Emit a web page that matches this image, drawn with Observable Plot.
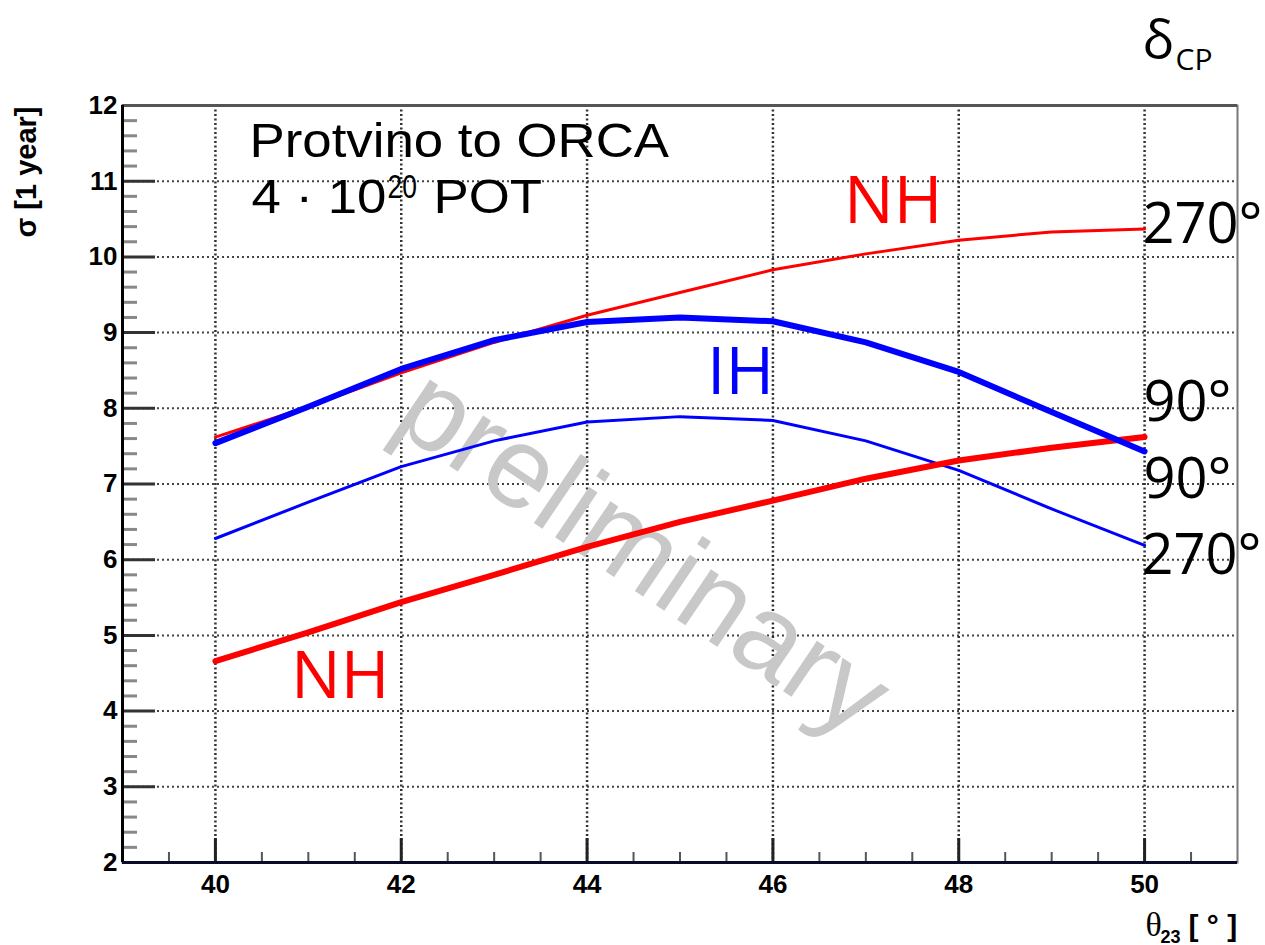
<!DOCTYPE html>
<html><head><meta charset="utf-8">
<script src="https://cdn.jsdelivr.net/npm/d3@7"></script>
<script src="https://cdn.jsdelivr.net/npm/@observablehq/plot@0.6"></script>
<style>
html,body{margin:0;padding:0;background:#fff;}
#chart svg{display:block;}
</style>
</head><body><div id="chart"></div>
<script>
// ---- data ----
const theta23 = [40, 41, 42, 43, 44, 45, 46, 47, 48, 49, 50];
const nh270 = [7.62, 8.02, 8.47, 8.87, 9.23, 9.53, 9.83, 10.04, 10.22, 10.33, 10.37];
const nh90  = [4.66, 5.04, 5.44, 5.80, 6.17, 6.50, 6.78, 7.07, 7.31, 7.48, 7.62];
const ih90  = [7.54, 8.02, 8.52, 8.90, 9.14, 9.20, 9.15, 8.87, 8.48, 7.95, 7.43];
const ih270 = [6.28, 6.76, 7.23, 7.57, 7.82, 7.89, 7.84, 7.57, 7.18, 6.67, 6.19];

const xMajorTicks = [40, 42, 44, 46, 48, 50];
const xMinorTicks = [39.5, 40.5, 41, 41.5, 42.5, 43, 43.5, 44.5, 45, 45.5, 46.5, 47, 47.5, 48.5, 49, 49.5, 50.5];
const yMajorTicks = [2, 3, 4, 5, 6, 7, 8, 9, 10, 11, 12];
const yMinorTicks = d3.range(2.2, 12, 0.2).filter(v => Math.abs(v - Math.round(v)) > 1e-6);
const xDomain = [39, 51];
const yDomain = [2, 12];

const series = (vals) => theta23.map((t, i) => ({theta: t, sigma: vals[i]}));

// ---- layout ----
const W = 1265, H = 945, mL = 122, mR = 28, mT = 105, mB = 83;
const fw = W - mL - mR, fh = H - mT - mB;

// text placed by pixel position (baseline) relative to the frame
function label(text, px, py, opts = {}) {
  return Plot.text([text], {
    frameAnchor: "top-left", dx: px - mL, dy: py - mT, text: d => d,
    textAnchor: "start", lineAnchor: "bottom", ...opts
  });
}
const ROOT = "'Liberation Sans', Arial, Helvetica, sans-serif";
const PPT = "'Open Sans', 'Noto Sans', sans-serif";

const chart = Plot.plot({
  width: W, height: H,
  marginLeft: mL, marginRight: mR, marginTop: mT, marginBottom: mB,
  x: {domain: xDomain},
  y: {domain: yDomain},
  style: {fontFamily: ROOT, background: "#fff", color: "#000", overflow: "visible"},
  marks: [
    // grid
    Plot.gridY(yMajorTicks.slice(1), {stroke: "#444", strokeOpacity: 1, strokeWidth: 2, strokeDasharray: "2,3"}),
    Plot.gridX(xMajorTicks, {stroke: "#333", strokeOpacity: 1, strokeWidth: 2.5, strokeDasharray: "2,2.5"}),
    // watermark
    label("preliminary", 643, 552, {textAnchor: "middle", lineAnchor: "middle", rotate: 34, fontSize: 115, fill: "#c8c8c8", fontFamily: ROOT}),
    // ticks (inward)
    Plot.tickX(xMinorTicks, {x: d => d, stroke: "#555", strokeWidth: 2, insetTop: fh - 10}),
    Plot.tickX(xMajorTicks, {x: d => d, stroke: "#222", strokeWidth: 3, insetTop: fh - 24}),
    Plot.tickY(yMinorTicks, {y: d => d, stroke: "#888", strokeWidth: 3, insetRight: fw - 15}),
    Plot.tickY(yMajorTicks, {y: d => d, stroke: "#333", strokeWidth: 3, insetRight: fw - 33}),
    // frame and axes lines
    Plot.frame({stroke: "#777", strokeWidth: 2}),
    Plot.ruleY([yDomain[1]], {stroke: "#555", strokeWidth: 3}),
    Plot.ruleX([xDomain[0]], {stroke: "#000", strokeWidth: 3}),
    Plot.ruleY([yDomain[0]], {stroke: "#0a0a2a", strokeWidth: 3}),
    // curves
    Plot.line(series(nh270), {x: "theta", y: "sigma", stroke: "#ff0000", strokeWidth: 3}),
    Plot.line(series(ih270), {x: "theta", y: "sigma", stroke: "#0000ff", strokeWidth: 3}),
    Plot.line(series(nh90), {x: "theta", y: "sigma", stroke: "#ff0000", strokeWidth: 6}),
    Plot.line(series(ih90), {x: "theta", y: "sigma", stroke: "#0000ff", strokeWidth: 6}),
    // axes tick labels
    Plot.axisY(yMajorTicks, {tickSize: 0, tickPadding: 5, tickFormat: d3.format("d"), fontSize: 26, fontWeight: "bold", label: null}),
    Plot.axisX(xMajorTicks, {tickSize: 0, tickPadding: 12, tickFormat: d3.format("d"), fontSize: 26, fontWeight: "bold", label: null}),
    // axis titles
    label("σ [1 year]", 35, 106, {rotate: -90, textAnchor: "end", fontSize: 29, fontWeight: "bold"}),
    label("θ", 1145, 935, {fontSize: 34, fontFamily: "'Liberation Serif', 'DejaVu Serif', serif"}),
    label("23", 1160, 942, {fontSize: 18, fontWeight: "bold"}),
    label("[ ° ]", 1188, 935, {fontSize: 30, fontWeight: "bold"}),
    // annotations (ROOT text, stretched horizontally)
    label("Protvino to ORCA", 249, 156, {fontSize: 48, ariaDescription: "sx-1.1"}),
    label("4 · 10", 251, 212, {fontSize: 48, ariaDescription: "sx-1.1"}),
    label("20", 387, 197, {fontSize: 33, ariaDescription: "sx-0.8"}),
    label("POT", 433, 212, {fontSize: 48, ariaDescription: "sx-1.1"}),
    // annotations (slide text)
    label("NH", 843.5, 222, {fontSize: 66, fill: "#ff0000", fontFamily: PPT}),
    label("NH", 290.5, 697, {fontSize: 66, fill: "#ff0000", fontFamily: PPT}),
    label("IH", 706.5, 393, {fontSize: 66, fill: "#0000ff", fontFamily: PPT}),
    label("270°", 1142, 242, {fontSize: 56, fontFamily: PPT}),
    label("90°", 1143, 420, {fontSize: 56, fontFamily: PPT}),
    label("90°", 1143, 497, {fontSize: 56, fontFamily: PPT}),
    label("270°", 1141, 573, {fontSize: 56, fontFamily: PPT}),
    label("δ", 1142, 57, {fontSize: 53, fontFamily: PPT}),
    label("CP", 1175, 69, {fontSize: 30, fontFamily: PPT})
  ]
});

// horizontal stretch for ROOT-rendered annotation text
chart.querySelectorAll("g[aria-description^='sx-']").forEach(g => {
  const s = +g.getAttribute("aria-description").slice(3);
  g.querySelectorAll("text").forEach(t => {
    const tr = t.getAttribute("transform") || "";
    t.setAttribute("transform", tr + ` scale(${s},1)`);
  });
});

document.getElementById("chart").appendChild(chart);
</script>
</body></html>
